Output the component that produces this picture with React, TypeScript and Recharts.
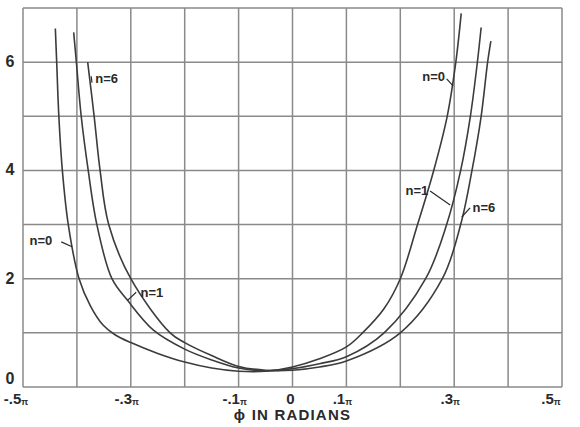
import React from 'react';
import { LineChart, Line, XAxis, YAxis, CartesianGrid, ReferenceDot, ReferenceLine } from 'recharts';

// Axis ticks and labels (x in units of π radians)
const xTicks = [-0.5, -0.4, -0.3, -0.2, -0.1, 0, 0.1, 0.2, 0.3, 0.4, 0.5];
const xTickLabels = ['-.5π', '', '-.3π', '', '-.1π', '0', '.1π', '', '.3π', '', '.5π'];
const yTicks = [0, 1, 2, 3, 4, 5, 6, 7];
const yTickLabels = ['0', '', '2', '', '4', '', '6', ''];
const xAxisTitle = 'ϕ IN RADIANS';

// Curve n = 0
const n0X = [-0.44, -0.4375, -0.4335, -0.427, -0.416, -0.396, -0.375, -0.352, -0.33, -0.3, -0.25, -0.2, -0.15, -0.1, -0.05, 0, 0.05, 0.1, 0.13, 0.17, 0.2, 0.232, 0.262, 0.287, 0.303, 0.313];
const n0Y = [6.62, 6.0, 5.0, 4.0, 3.0, 2.0, 1.5, 1.15, 0.97, 0.82, 0.62, 0.46, 0.35, 0.29, 0.29, 0.37, 0.52, 0.74, 1.0, 1.45, 2.0, 3.0, 4.0, 5.0, 6.0, 6.9];

// Curve n = 1
const n1X = [-0.406, -0.401, -0.392, -0.379, -0.363, -0.335, -0.306, -0.258, -0.2, -0.15, -0.1, -0.05, 0, 0.05, 0.1, 0.17, 0.247, 0.286, 0.312, 0.33, 0.343, 0.35];
const n1Y = [6.55, 6.0, 5.0, 4.0, 3.0, 2.0, 1.6, 1.05, 0.7, 0.5, 0.35, 0.3, 0.34, 0.43, 0.56, 1.0, 2.0, 3.0, 4.0, 5.0, 6.0, 6.64];

// Curve n = 6
const n6X = [-0.38, -0.368, -0.357, -0.341, -0.3, -0.227, -0.2, -0.15, -0.1, -0.05, 0, 0.05, 0.1, 0.2, 0.278, 0.312, 0.333, 0.35, 0.362, 0.368];
const n6Y = [6.0, 5.0, 4.0, 3.0, 2.0, 1.0, 0.82, 0.58, 0.38, 0.31, 0.31, 0.37, 0.48, 1.0, 2.0, 3.0, 4.0, 5.0, 6.0, 6.39];

// Curve annotations (data coordinates)
const labelTexts = ['n=6', 'n=0', 'n=1', 'n=0', 'n=1', 'n=6'];
const labelX = [-0.366, -0.488, -0.282, 0.283, 0.252, 0.334];
const labelY = [5.7, 2.71, 1.75, 5.75, 3.64, 3.32];
const labelAnchor = ['start', 'start', 'start', 'end', 'end', 'start'];

// Pointer strokes from labels to curves (data coordinates)
const pointerX1 = [-0.3735, -0.429, -0.29, 0.286, 0.2553, 0.3294];
const pointerY1 = [5.74, 2.68, 1.75, 5.69, 3.62, 3.31];
const pointerX2 = [-0.372, -0.409, -0.306, 0.298, 0.2925, 0.314];
const pointerY2 = [5.62, 2.59, 1.6, 5.56, 3.36, 3.14];

const zip = (xs: number[], ys: number[]) => xs.map((x, i) => ({ x, y: ys[i] }));
const seriesN0 = zip(n0X, n0Y);
const seriesN1 = zip(n1X, n1Y);
const seriesN6 = zip(n6X, n6Y);

// Centripetal Catmull-Rom curve factory (smooth through every point, handles steep parts)
const catmullRom = (context: any) => {
  let pts: number[][] = [];
  return {
    areaStart() {},
    areaEnd() {},
    lineStart() {
      pts = [];
    },
    point(x: number, y: number) {
      pts.push([+x, +y]);
    },
    lineEnd() {
      const n = pts.length;
      if (!n) return;
      context.moveTo(pts[0][0], pts[0][1]);
      if (n === 1) return;
      const d = (a: number[], b: number[]) => Math.hypot(b[0] - a[0], b[1] - a[1]);
      for (let i = 0; i < n - 1; i++) {
        const p0 = i > 0 ? pts[i - 1] : null;
        const p1 = pts[i];
        const p2 = pts[i + 1];
        const p3 = i + 2 < n ? pts[i + 2] : null;
        let c1x = p1[0], c1y = p1[1], c2x = p2[0], c2y = p2[1];
        const l12a = Math.sqrt(d(p1, p2));
        const l12_2a = d(p1, p2);
        if (p0) {
          const l01a = Math.sqrt(d(p0, p1));
          const l01_2a = d(p0, p1);
          if (l01a > 1e-9) {
            const a = 2 * l01_2a + 3 * l01a * l12a + l12_2a;
            const m = 3 * l01a * (l01a + l12a);
            c1x = (p1[0] * a - p0[0] * l12_2a + p2[0] * l01_2a) / m;
            c1y = (p1[1] * a - p0[1] * l12_2a + p2[1] * l01_2a) / m;
          }
        }
        if (p3) {
          const l23a = Math.sqrt(d(p2, p3));
          const l23_2a = d(p2, p3);
          if (l23a > 1e-9) {
            const b = 2 * l23_2a + 3 * l23a * l12a + l12_2a;
            const m = 3 * l23a * (l23a + l12a);
            c2x = (p2[0] * b + p1[0] * l23_2a - p3[0] * l12_2a) / m;
            c2y = (p2[1] * b + p1[1] * l23_2a - p3[1] * l12_2a) / m;
          }
        }
        context.bezierCurveTo(c1x, c1y, c2x, c2y, p2[0], p2[1]);
      }
    },
  };
};

const FONT = '"Liberation Sans", Arial, sans-serif';
const INK = '#2a2a2a';
const CURVE = '#3c3c3c';
const GRID = '#8a8a8a';

const XTick = (props: any) => {
  const { x, y, payload } = props;
  const i = xTicks.indexOf(payload.value);
  const label = i >= 0 ? xTickLabels[i] : '';
  if (!label) return null;
  const hasPi = label.endsWith('π');
  const num = hasPi ? label.slice(0, -1) : label;
  let dx = -4;
  if (i === 0) dx = -7;
  if (i === xTicks.length - 1) dx = -11;
  if (!hasPi) dx = -2;
  return (
    <text x={x + dx} y={y + 9} textAnchor="middle" fontFamily={FONT} fontWeight="bold" fontSize={15} fill={INK}>
      {num}
      {hasPi ? <tspan fontSize={9} dy={1}>π</tspan> : null}
    </text>
  );
};

const YTick = (props: any) => {
  const { y, payload } = props;
  const i = yTicks.indexOf(payload.value);
  const label = i >= 0 ? yTickLabels[i] : '';
  if (!label) return null;
  const dy = payload.value === 0 ? -8 : 0;
  return (
    <text x={10} y={y + dy + 5} textAnchor="middle" fontFamily={FONT} fontWeight="bold" fontSize={16} fill={INK}>
      {label}
    </text>
  );
};

const LabelShape = (text: string, anchor: string) => (p: any) => (
  <text x={p.cx} y={p.cy + 5} textAnchor={anchor as any} fontFamily={FONT} fontWeight="bold" fontSize={13} fill={INK}>
    {text}
  </text>
);

export default function App() {
  return (
    <div style={{ position: 'absolute', left: 0, top: 0, width: 580, height: 427, background: '#fff' }}>
      <LineChart width={580} height={427} margin={{ top: 8, right: 18, bottom: 0, left: 1 }}>
        <CartesianGrid stroke={GRID} strokeWidth={1.5} />
        <XAxis
          type="number"
          dataKey="x"
          domain={[-0.5, 0.5]}
          ticks={xTicks}
          interval={0}
          allowDataOverflow
          axisLine={false}
          tickLine={false}
          height={40}
          tick={<XTick />}
          label={{ value: xAxisTitle, position: 'insideBottom', offset: 7, fontFamily: FONT, fontWeight: 'bold', fontSize: 15, letterSpacing: 1.2, fill: INK }}
        />
        <YAxis
          type="number"
          domain={[0, 7]}
          ticks={yTicks}
          interval={0}
          allowDataOverflow
          axisLine={false}
          tickLine={false}
          width={22}
          tick={<YTick />}
        />
        <Line data={seriesN0} dataKey="y" type={catmullRom as any} stroke={CURVE} strokeWidth={1.6} dot={false} isAnimationActive={false} />
        <Line data={seriesN1} dataKey="y" type={catmullRom as any} stroke={CURVE} strokeWidth={1.6} dot={false} isAnimationActive={false} />
        <Line data={seriesN6} dataKey="y" type={catmullRom as any} stroke={CURVE} strokeWidth={1.6} dot={false} isAnimationActive={false} />
        {pointerX1.map((x1, i) => (
          <ReferenceLine
            key={'p' + i}
            segment={[{ x: x1, y: pointerY1[i] }, { x: pointerX2[i], y: pointerY2[i] }]}
            stroke={INK}
            strokeWidth={1.2}
          />
        ))}
        {labelTexts.map((t, i) => (
          <ReferenceDot key={'l' + i} x={labelX[i]} y={labelY[i]} r={0} shape={LabelShape(t, labelAnchor[i])} />
        ))}
      </LineChart>
    </div>
  );
}
